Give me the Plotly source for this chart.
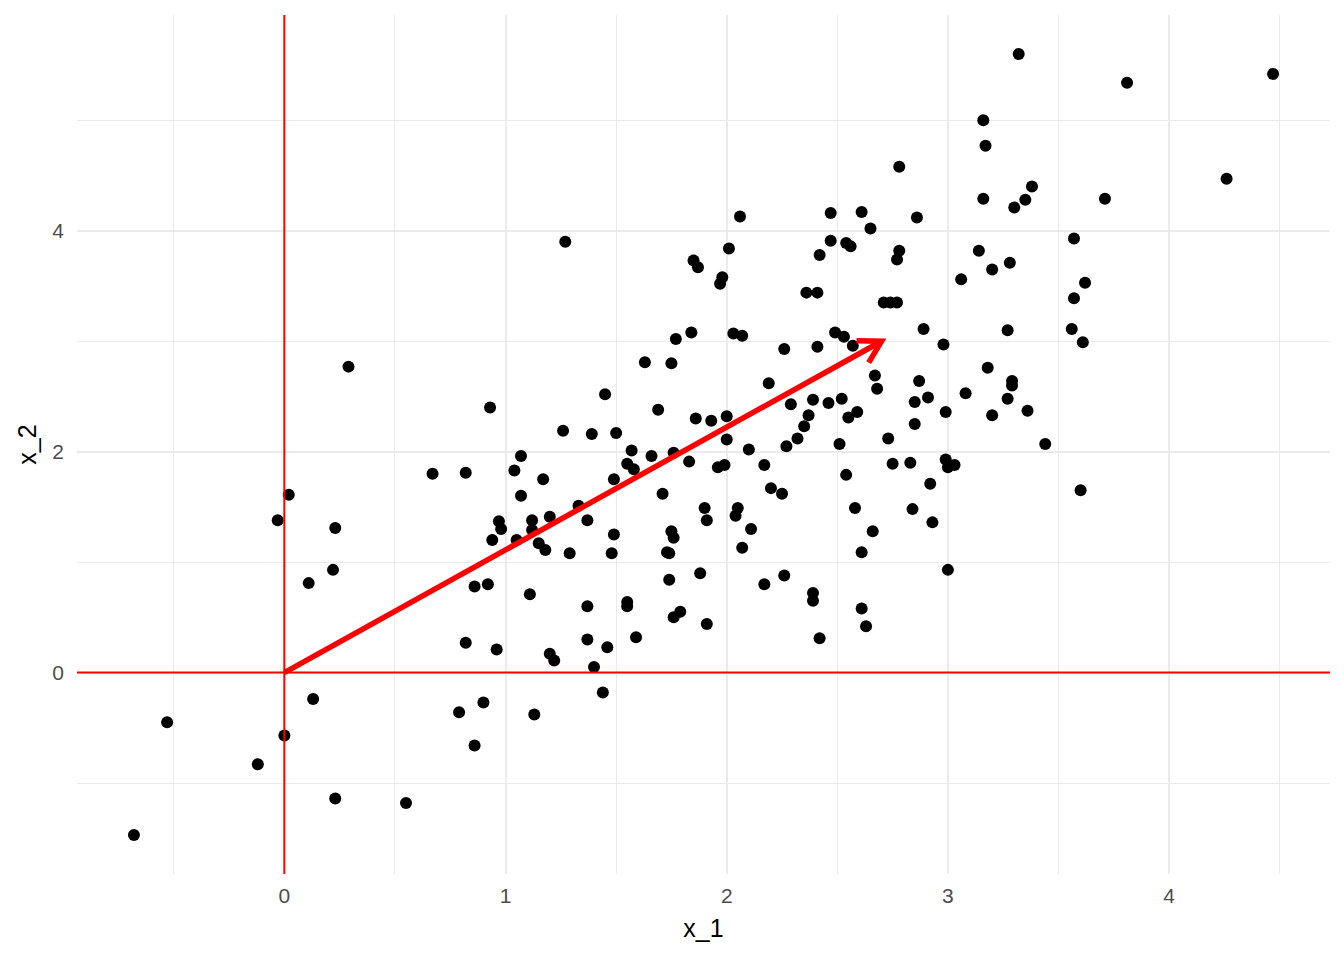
import numpy as np
import plotly.graph_objects as go

# ---------------- data ----------------
x_1 = [
    1.27, 2.06, 2.01, 1.85, 1.87, 1.98, 1.97, 2.47, 2.61, 2.65, 2.78, 2.86, 2.47, 2.54, 2.56, 2.42, 2.78, 2.77, 2.36, 2.41, 2.71, 2.74, 2.77,
    3.32, 3.81, 4.47, 3.16, 3.17, 4.26, 3.38, 3.35, 3.30, 3.16, 3.71, 3.57, 3.14, 3.20, 3.28, 3.06, 3.62, 3.57,
    0.29, 0.93, 0.67, 0.82, 0.02, -0.03, 0.23, 0.97, 0.98, 0.94, 0.22, 0.11, 0.86, 0.92,
    2.89, 1.84, 1.77, 2.03, 2.07, 2.49, 2.53, 2.57, 2.26, 2.41, 1.63, 1.75, 2.67, 2.68, 2.19, 1.45, 2.87, 2.85, 2.91, 2.29,
    2.39, 2.46, 2.52, 2.37, 2.35, 2.32, 2.27, 2.55, 2.59, 2.51, 2.85, 2.73, 1.69, 1.86, 1.93, 2.00, 2.00, 2.10, 1.26, 1.39,
    1.50, 1.57, 1.66, 1.76, 1.83, 1.55, 1.58, 1.07, 1.04, 1.17, 1.49, 1.96, 1.99, 2.17, 2.75, 2.83, 2.54, 2.92, 1.07, 1.71,
    2.20, 2.25, 1.90, 2.05, 2.04, 2.58, 2.84, 1.12, 1.20, 1.33, 1.37, 1.12, 1.91, 2.11, 2.66, 1.05, 1.15, 1.18, 1.29, 1.49,
    1.48, 1.75, 1.76, 1.73, 1.74, 2.07, 2.61, 1.74, 1.88, 2.17, 2.26,
    3.27, 3.56, 3.61, 2.98, 3.18, 3.29, 3.29, 3.08, 3.27, 2.99, 3.20, 3.36, 3.44, 2.99, 3.00, 3.03, 3.60, 2.93, 3.00,
    0.82, 0.96, 0.13, -0.53, 0.00, -0.12, 0.79, 0.90, 0.86, 0.23, 0.55, -0.68,
    1.11, 1.37, 1.55, 1.55, 1.76, 1.79, 1.91, 2.39, 2.39, 2.61, 2.63, 2.42, 1.37, 1.46, 1.59, 1.20, 1.22, 1.40, 1.44, 1.13,
]
x_2 = [
    3.90, 4.13, 3.84, 3.73, 3.67, 3.58, 3.52, 4.16, 4.17, 4.02, 4.58, 4.12, 3.91, 3.89, 3.86, 3.78, 3.82, 3.74, 3.44, 3.44, 3.35, 3.35, 3.35,
    5.60, 5.34, 5.42, 5.00, 4.77, 4.47, 4.40, 4.28, 4.21, 4.29, 4.29, 3.93, 3.82, 3.65, 3.71, 3.56, 3.53, 3.39,
    2.77, 2.40, 1.80, 1.81, 1.61, 1.38, 1.31, 1.37, 1.30, 1.20, 0.93, 0.81, 0.78, 0.80,
    3.11, 3.08, 3.02, 3.07, 3.05, 3.08, 3.04, 2.96, 2.93, 2.95, 2.81, 2.80, 2.69, 2.57, 2.62, 2.52, 2.64, 2.45, 2.49, 2.43,
    2.47, 2.44, 2.48, 2.33, 2.23, 2.12, 2.05, 2.31, 2.36, 2.07, 2.25, 2.12, 2.38, 2.30, 2.28, 2.32, 2.11, 2.02, 2.19, 2.16,
    2.17, 2.01, 1.96, 1.99, 1.91, 1.89, 1.84, 1.96, 1.83, 1.75, 1.75, 1.86, 1.88, 1.88, 1.89, 1.90, 1.79, 1.71, 1.60, 1.62,
    1.67, 1.62, 1.49, 1.49, 1.42, 1.49, 1.48, 1.38, 1.41, 1.51, 1.38, 1.29, 1.38, 1.30, 1.28, 1.20, 1.17, 1.11, 1.08, 1.25,
    1.08, 1.28, 1.22, 1.09, 1.08, 1.13, 1.09, 0.84, 0.90, 0.80, 0.88,
    3.10, 3.11, 2.99, 2.97, 2.76, 2.64, 2.60, 2.53, 2.48, 2.36, 2.33, 2.37, 2.07, 1.93, 1.86, 1.88, 1.65, 1.36, 0.93,
    0.27, 0.21, -0.24, -0.45, -0.57, -0.83, -0.36, -0.27, -0.66, -1.14, -1.18, -1.47,
    0.71, 0.60, 0.64, 0.60, 0.50, 0.55, 0.44, 0.72, 0.65, 0.58, 0.42, 0.31, 0.30, 0.23, 0.32, 0.17, 0.11, 0.05, -0.18, -0.38,
]
vector_end = [2.7, 3.0]          # arrow from the origin to this point
x_ticks = [0, 1, 2, 3, 4]
x_tick_labels = ["0", "1", "2", "3", "4"]
y_ticks = [0, 2, 4]
y_tick_labels = ["0", "2", "4"]
x_minor = [-0.5, 0.5, 1.5, 2.5, 3.5, 4.5]
y_minor = [-1, 1, 3, 5]

# ---------------- layout geometry ----------------
# the page body adds an 8px offset, so the figure is 8px smaller
W, H = 1336, 952
ML, MR, MT, MB = 69, 14, 7, 86
FONT = "Liberation Sans, Arial, Helvetica, sans-serif"
GRID = "#EBEBEB"


def expand(v, mult=0.05):
    lo, hi = min(v), max(v)
    d = (hi - lo) * mult
    return [lo - d, hi + d]


xr = expand(x_1)
yr = expand(x_2)

fig = go.Figure()
fig.add_trace(go.Scatter(
    x=x_1, y=x_2, mode="markers",
    marker=dict(color="black", size=12, line=dict(width=0)),
    hoverinfo="skip", showlegend=False,
))

# arrow (segment + open head computed in screen space)
pw, ph = W - ML - MR, H - MT - MB
sx = pw / (xr[1] - xr[0])
sy = ph / (yr[1] - yr[0])
ax_, ay_ = vector_end
ang = np.arctan2(ay_ * sy, ax_ * sx)
head_len = 25.0
phi = np.radians(30)
hx, hy = [], []
for s in (1, -1):
    a = ang + np.pi + s * phi
    hx.append(ax_ + head_len * np.cos(a) / sx)
    hy.append(ay_ + head_len * np.sin(a) / sy)

fig.add_trace(go.Scatter(
    x=[0, ax_], y=[0, ay_], mode="lines",
    line=dict(color="#FF0000", width=5.5), hoverinfo="skip", showlegend=False,
))
fig.add_trace(go.Scatter(
    x=[hx[0], ax_, hx[1]], y=[hy[0], ay_, hy[1]], mode="lines",
    line=dict(color="#FF0000", width=5.5), hoverinfo="skip", showlegend=False,
))

# reference lines at 0
fig.add_shape(type="line", xref="x", yref="paper", x0=0, x1=0, y0=0, y1=1,
              line=dict(color="#FF0000", width=2), layer="above")
fig.add_shape(type="line", xref="paper", yref="y", x0=0, x1=1, y0=0, y1=0,
              line=dict(color="#FF0000", width=2), layer="above")

axis_common = dict(
    showgrid=True, gridcolor=GRID, gridwidth=2,
    zeroline=False, showline=False, ticks="",
    tickfont=dict(family=FONT, size=21, color="#4D4D4D"),
)

fig.update_layout(
    template="none",
    width=W, height=H,
    margin=dict(l=ML, r=MR, t=MT, b=MB, pad=0),
    paper_bgcolor="white", plot_bgcolor="white",
    showlegend=False,
    font=dict(family=FONT),
    xaxis=dict(
        range=xr, tickmode="array", tickvals=x_ticks, ticktext=x_tick_labels,
        ticklabelstandoff=7,
        minor=dict(tickvals=x_minor, showgrid=True, gridcolor=GRID, gridwidth=1, ticks=""),
        title=dict(text="x_1", font=dict(family=FONT, size=25, color="black"), standoff=13),
        **axis_common,
    ),
    yaxis=dict(
        range=yr, tickmode="array", tickvals=y_ticks, ticktext=y_tick_labels,
        ticklabelstandoff=12,
        minor=dict(tickvals=y_minor, showgrid=True, gridcolor=GRID, gridwidth=1, ticks=""),
        title=dict(text="x_2", font=dict(family=FONT, size=25, color="black"), standoff=8),
        **axis_common,
    ),
)

fig.write_html("out.html")
